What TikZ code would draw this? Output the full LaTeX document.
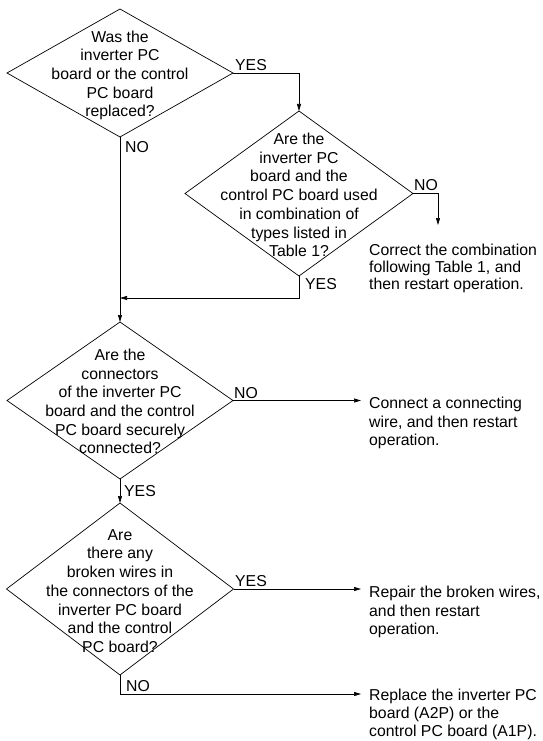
\documentclass[tikz,border=0pt]{standalone}
\usepackage{fontspec}
\setmainfont{Liberation Sans}
\usetikzlibrary{shapes.geometric,arrows.meta}
\begin{document}
\begin{tikzpicture}[x=1pt,y=-1pt,
  dia/.style={draw, diamond, inner sep=0pt, outer sep=0pt, line width=0.7pt},
  qtext/.style={align=center, inner sep=0pt, font=\fontsize{15.8}{18.7}\selectfont},
  atext/.style={align=left, inner sep=0pt, anchor=north west, font=\fontsize{15.8}{18.5}\selectfont},
  lbl/.style={inner sep=0pt, anchor=base west, font=\fontsize{15.8}{18.5}\selectfont},
  conn/.style={line width=0.7pt},
  arr/.style={conn, -{Triangle[length=7pt,width=4pt]}}
]
\useasboundingbox (0,0) rectangle (543,741);

% decision diamonds
\node[dia, minimum width=226pt, minimum height=128pt] (d1) at (120,73) {};
\node[dia, minimum width=228pt, minimum height=165pt] (d2) at (299,193.5) {};
\node[dia, minimum width=226pt, minimum height=157pt] (d3) at (120,400.5) {};
\node[dia, minimum width=227pt, minimum height=172pt] (d4) at (120,589) {};

% diamond texts
\node[qtext] (q1) at (120,75.5) {Was the\\inverter PC\\board or the control\\PC board\\replaced?};
\node[qtext] (q2) at (299,195) {Are the\\inverter PC\\board and the\\control PC board used\\in combination of\\types listed in\\Table 1?};
\node[qtext] (q3) at (120,401.5) {Are the\\connectors\\of the inverter PC\\board and the control\\PC board securely\\connected?};
\node[qtext] (q4) at (120,591) {Are\\there any\\broken wires in\\the connectors of the\\inverter PC board\\and the control\\PC board?};

% action texts
\node[atext, font=\fontsize{15.8}{17}\selectfont] (corr) at (369,243.6) {Correct the combination\\following Table 1, and\\then restart operation.};
\node[atext] (conn) at (369,397) {Connect a connecting\\wire, and then restart\\operation.};
\node[atext] (rep) at (369,586) {Repair the broken wires,\\and then restart\\operation.};
\node[atext, font=\fontsize{15.8}{17.8}\selectfont] (repl) at (369,688.8) {Replace the inverter PC\\board (A2P) or the\\control PC board (A1P).};

% helper coordinates
\coordinate (ctip) at (438,225);
\coordinate (join) at (120,298);
\coordinate (d4no) at (120,694);

% connectors
\draw[arr] (d1.east) -| (d2.north);
\draw[arr] (d1.south) -- (d3.north);
\draw[arr] (d2.east) -| (ctip);
\draw[arr] (d2.south) |- (join);
\draw[arr, shorten >=8pt] (d3.east) -- (d3.east -| conn.west);
\draw[arr] (d3.south) -- (d4.north);
\draw[arr, shorten >=8pt] (d4.east) -- (d4.east -| rep.west);
\draw[arr, shorten >=8pt] (d4.south) -- (d4no) -- (d4no -| repl.west);

% labels
\node[lbl] (l1) at (235,70.5) {YES};
\node[lbl] (l2) at (125,153) {NO};
\node[lbl] (l3) at (414,190) {NO};
\node[lbl] (l4) at (305,289) {YES};
\node[lbl] (l5) at (234,398) {NO};
\node[lbl] (l6) at (124,496) {YES};
\node[lbl] (l7) at (235,586) {YES};
\node[lbl] (l8) at (126,691) {NO};
\end{tikzpicture}
\end{document}
